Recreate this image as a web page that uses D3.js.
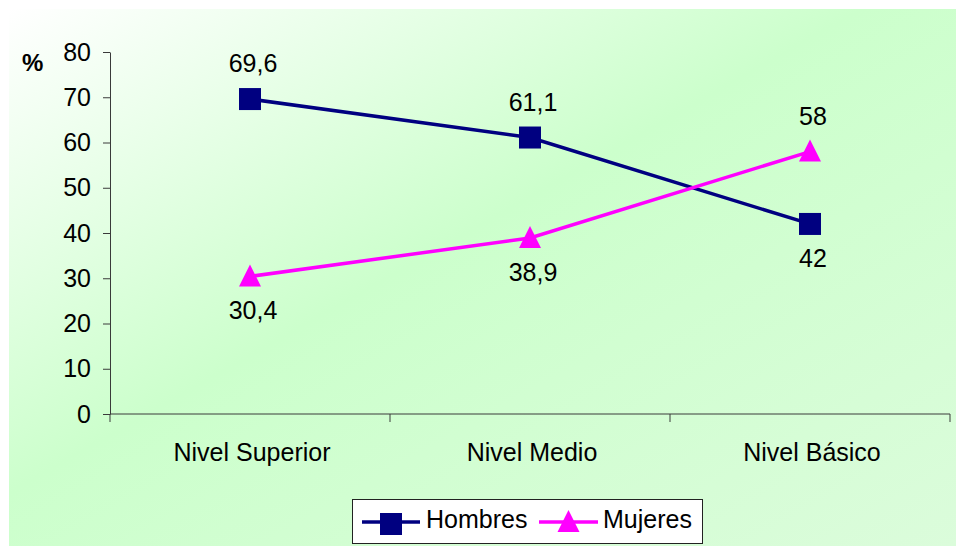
<!DOCTYPE html>
<html>
<head>
<meta charset="utf-8">
<script src="https://cdn.jsdelivr.net/npm/d3@7/dist/d3.min.js"></script>
<style>
  html, body { margin: 0; padding: 0; background: #ffffff; }
  svg { display: block; font-family: "Liberation Sans", Arial, sans-serif; }
</style>
</head>
<body>
<svg id="chart" width="956" height="546"></svg>
<script>
// Education level categories and the share (%) of each sex
const categories = ["Nivel Superior", "Nivel Medio", "Nivel Básico"];
const hombres = [69.6, 61.1, 42];
const mujeres = [30.4, 38.9, 58];
const yTicks = [0, 10, 20, 30, 40, 50, 60, 70, 80];
const seriesNames = ["Hombres", "Mujeres"];

const series = [
  { name: seriesNames[0], values: hombres, color: "#000080", marker: "square" },
  { name: seriesNames[1], values: mujeres, color: "#ff00ff", marker: "triangle" }
];

const svg = d3.select("#chart");
const W = 956, H = 546;

// Background panel with a soft diagonal green gradient
const defs = svg.append("defs");
const grad = defs.append("linearGradient")
  .attr("id", "bg").attr("x1", 0).attr("y1", 0).attr("x2", 1).attr("y2", 1);
grad.append("stop").attr("offset", "0%").attr("stop-color", "#ffffff");
grad.append("stop").attr("offset", "45%").attr("stop-color", "#ccffcc");
grad.append("stop").attr("offset", "100%").attr("stop-color", "#dbfcdb");
svg.append("rect").attr("x", 9).attr("y", 9).attr("width", W - 9).attr("height", H - 9)
  .attr("fill", "url(#bg)");

const plot = { left: 110, right: 950, top: 52, bottom: 414 };

const x = d3.scaleBand().domain(categories).range([plot.left, plot.right]).padding(0);
const y = d3.scaleLinear().domain([0, 80]).range([plot.bottom, plot.top]);
const cx = c => x(c) + x.bandwidth() / 2;

const axisColor = "#3a3a3a";
const fontSize = 25;

// Y axis
const yAxis = svg.append("g")
  .attr("transform", `translate(${plot.left},0)`)
  .call(d3.axisLeft(y).tickValues(yTicks).tickSize(7).tickPadding(12).tickSizeOuter(0));
yAxis.select(".domain").attr("stroke", axisColor);
yAxis.selectAll(".tick line").attr("stroke", axisColor);
yAxis.selectAll(".tick text").attr("fill", "#000").style("font-size", fontSize + "px")
  .style("font-family", "'Liberation Sans', Arial, sans-serif");

// X axis: baseline, category labels, and ticks at category boundaries
const xAxis = svg.append("g").attr("transform", `translate(0,${plot.bottom})`);
xAxis.append("line").attr("x1", plot.left).attr("x2", plot.right)
  .attr("stroke", axisColor);
const bounds = categories.map(c => x(c)).concat([x.range()[1]]);
xAxis.selectAll(".bt").data(bounds).join("line")
  .attr("x1", d => d).attr("x2", d => d).attr("y1", 0).attr("y2", 8)
  .attr("stroke", axisColor);
xAxis.selectAll(".cl").data(categories).join("text")
  .attr("x", d => cx(d) + 2).attr("y", 47).attr("text-anchor", "middle")
  .style("font-size", fontSize + "px").text(d => d);

// Unit label
svg.append("text").attr("x", 22).attr("y", 71).style("font-size", "24px")
  .style("font-weight", "bold").text("%");

// Marker drawing
function drawMarker(g, type, color, px, py) {
  if (type === "square") {
    g.append("rect").attr("x", px - 11).attr("y", py - 11).attr("width", 22).attr("height", 22)
      .attr("fill", color);
  } else {
    g.append("path")
      .attr("d", `M${px},${py - 12}L${px + 11},${py + 10}L${px - 11},${py + 10}Z`)
      .attr("fill", color);
  }
}

const line = d3.line().x((d, i) => cx(categories[i])).y(d => y(d));

series.forEach((s, si) => {
  const g = svg.append("g");
  g.append("path").attr("d", line(s.values)).attr("fill", "none")
    .attr("stroke", s.color).attr("stroke-width", 3.5);
  s.values.forEach((v, i) => drawMarker(g, s.marker, s.color, cx(categories[i]), y(v)));
  // Value labels: above the higher series, below the lower one
  s.values.forEach((v, i) => {
    const other = series[1 - si].values[i];
    const above = v >= other;
    g.append("text")
      .attr("x", cx(categories[i]) + 3)
      .attr("y", above ? y(v) - 27 : y(v) + 43)
      .attr("text-anchor", "middle")
      .style("font-size", fontSize + "px")
      .text(String(v).replace(".", ","));
  });
});

// Legend
const lg = svg.append("g");
lg.append("rect").attr("x", 352.5).attr("y", 499.5).attr("width", 350).attr("height", 44)
  .attr("fill", "#ffffff").attr("stroke", "#222").attr("stroke-width", 1);
const legendItems = [
  { s: series[0], x0: 362, x1: 420, tx: 426 },
  { s: series[1], x0: 539, x1: 598, tx: 603 }
];
legendItems.forEach(it => {
  const ly = 522;
  lg.append("line").attr("x1", it.x0).attr("x2", it.x1).attr("y1", ly).attr("y2", ly)
    .attr("stroke", it.s.color).attr("stroke-width", 3.5);
  drawMarker(lg, it.s.marker, it.s.color, (it.x0 + it.x1) / 2, ly + (it.s.marker === "square" ? 2 : 0));
  lg.append("text").attr("x", it.tx).attr("y", 528).style("font-size", fontSize + "px")
    .text(it.s.name);
});
</script>
</body>
</html>
